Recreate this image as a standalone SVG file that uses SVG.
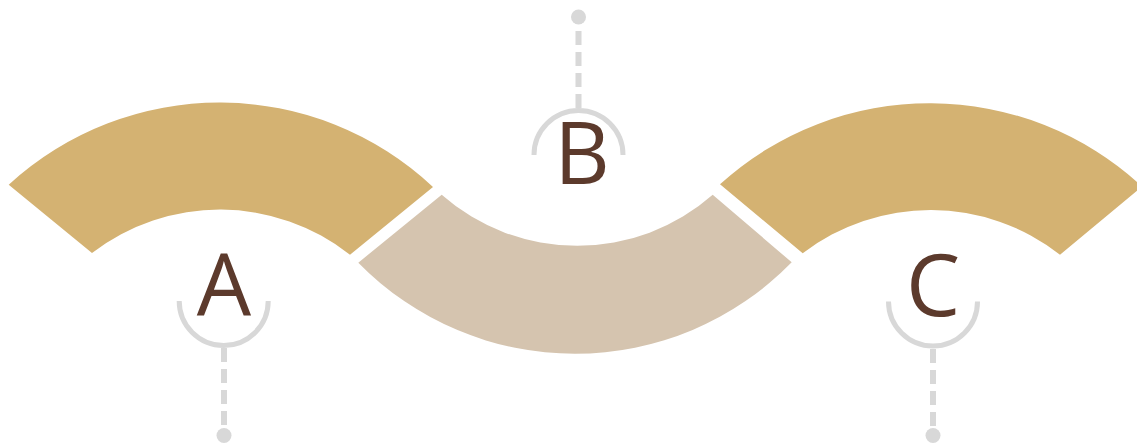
<svg xmlns="http://www.w3.org/2000/svg" width="1137" height="444" viewBox="0 0 1137 444">
<style>
.gold{fill:#D4B272}
.sand{fill:#D5C4AF}
.lbl{font-family:"Open Sans","Noto Sans","Liberation Sans",sans-serif;font-size:86px;fill:#5C3A2C;text-anchor:middle}
.ring{fill:none;stroke:#D8D8D8;stroke-width:5}
.dash{fill:none;stroke:#D8D8D8;stroke-width:6;stroke-dasharray:14 7}
.dot{fill:#D8D8D8}
</style>
<rect width="1137" height="444" fill="#FFFFFF"/>
<g id="band-a">
<path class="gold" d="M 8.7,184.7 A 312 312 0 0 1 433,187 L 350,254.7 A 210 210 0 0 0 92,253 Z"/>
</g>
<g id="band-b">
<path class="sand" d="M 441.7,194.7 A 205 205 0 0 0 712.7,194.7 L 791.7,262.3 A 303 303 0 0 1 358.3,262.7 Z"/>
</g>
<g id="band-c">
<path class="gold" d="M 720,184.3 A 312 312 0 0 1 1142,186.5 L 1060,254.7 A 210 210 0 0 0 802.7,253.3 Z"/>
</g>
<g id="connectors">
<line class="dash" x1="224" y1="348" x2="224" y2="434"/>
<line class="dash" x1="578.5" y1="108" x2="578.5" y2="18"/>
<line class="dash" x1="933" y1="349" x2="933" y2="434"/>
</g>
<g id="node-a">
<path class="ring" d="M 179.2,301 A 44.5 44.5 0 0 0 268.2,301"/>
<circle class="dot" cx="224" cy="435.5" r="7.5"/>
<text class="lbl" x="224" y="316">A</text>
</g>
<g id="node-b">
<path class="ring" d="M 534,155 A 44.5 44.5 0 0 1 623,155"/>
<circle class="dot" cx="578.5" cy="17" r="7.5"/>
<text class="lbl" x="582" y="184">B</text>
</g>
<g id="node-c">
<path class="ring" d="M 888.5,301.5 A 44.5 44.5 0 0 0 977.5,301.5"/>
<circle class="dot" cx="933" cy="435.5" r="7.5"/>
<text class="lbl" x="933" y="316">C</text>
</g>
</svg>
